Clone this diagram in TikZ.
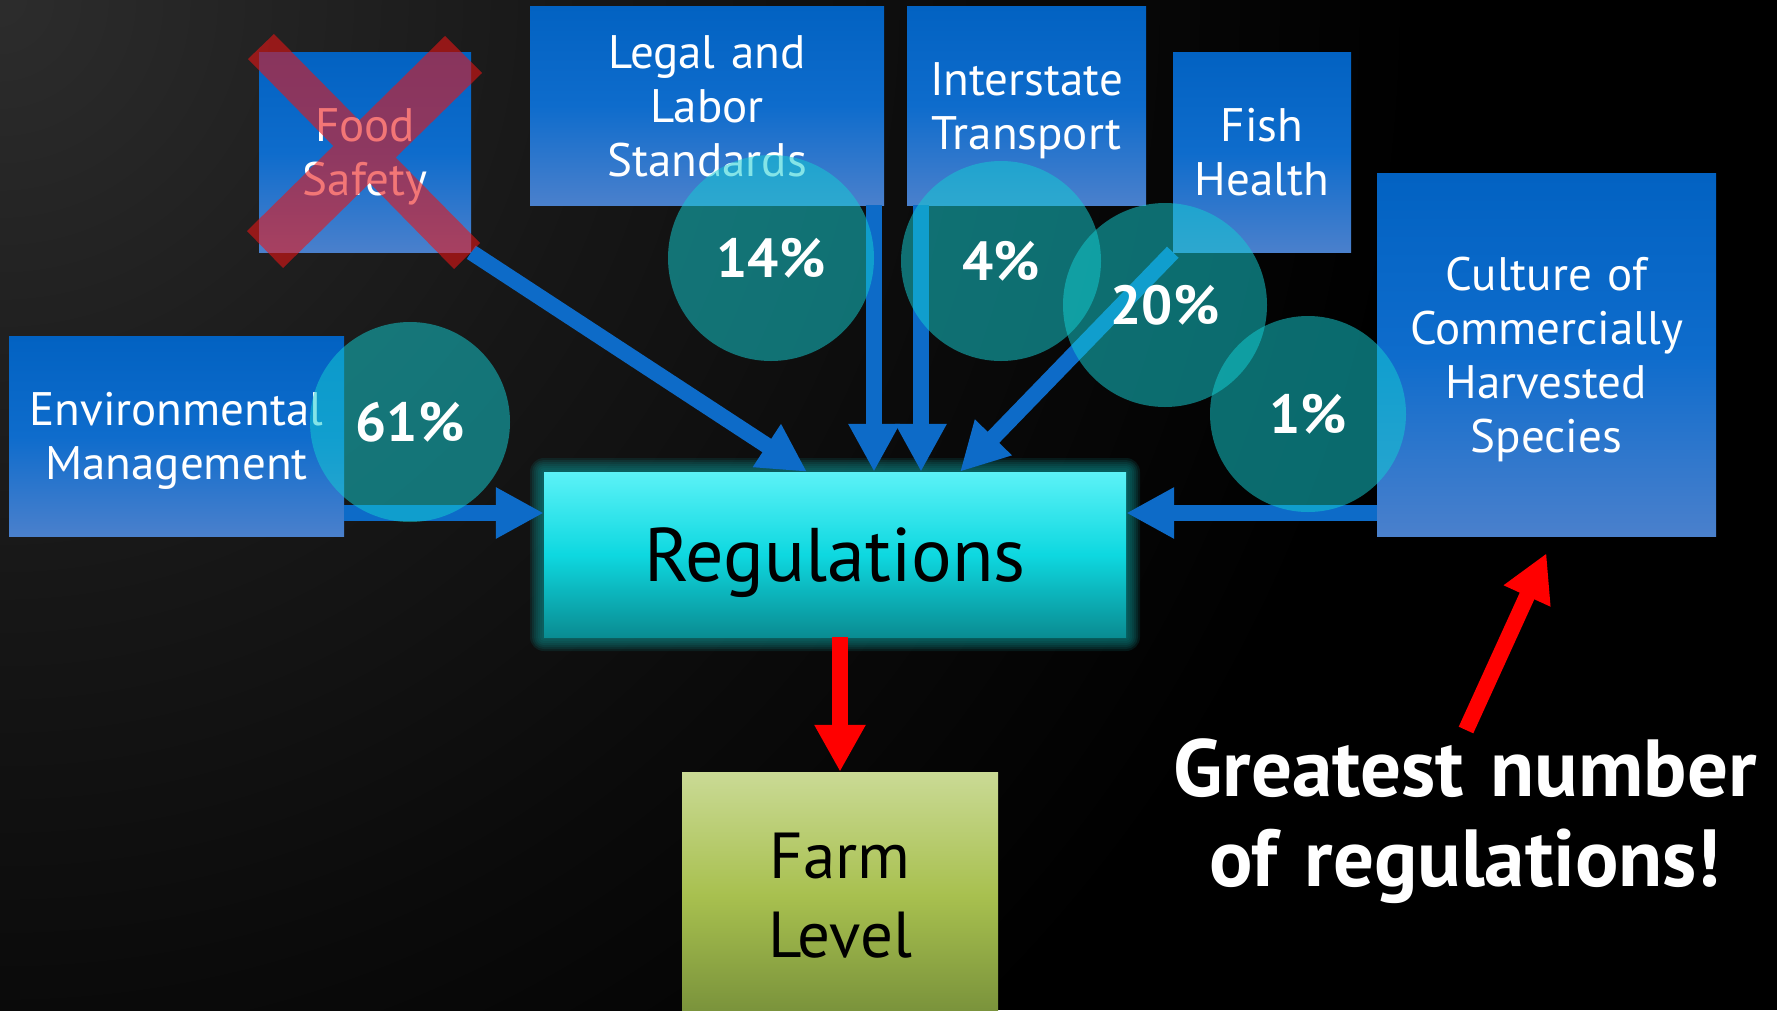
\documentclass[tikz,border=0pt]{standalone}
\usepackage{fontspec}
\setmainfont{PT Sans}
\usetikzlibrary{arrows.meta,calc}
\definecolor{bTop}{RGB}{2,98,194}
\definecolor{bMid}{RGB}{14,108,204}
\definecolor{bBot}{RGB}{74,128,204}
\definecolor{rTop}{RGB}{92,242,247}
\definecolor{rMid}{RGB}{14,216,224}
\definecolor{rBot}{RGB}{10,140,146}
\definecolor{fTop}{RGB}{202,218,149}
\definecolor{fMid}{RGB}{168,192,79}
\definecolor{fBot}{RGB}{119,144,58}
\definecolor{arrBlue}{RGB}{13,107,200}
\definecolor{circ}{RGB}{20,205,210}
\definecolor{xred}{RGB}{235,20,20}
\definecolor{glowc}{RGB}{12,130,130}
\begin{document}
\begin{tikzpicture}[x=1pt,y=-1pt,
  bbox/.style={rectangle, inner sep=0pt, top color=bTop, bottom color=bBot, middle color=bMid,
    text=white, align=center, font=\fontsize{47}{54}\selectfont, text height=33pt},
  rbox/.style={rectangle, inner sep=0pt, top color=rTop, bottom color=rBot, middle color=rMid,
    text=black, font=\fontsize{76}{76}\selectfont, text height=53pt, text depth=0pt},
  fbox/.style={rectangle, inner sep=0pt, top color=fTop, bottom color=fBot, middle color=fMid,
    text=black, align=center, font=\fontsize{65}{79}\selectfont, text height=45pt},
  barrow/.style={draw=arrBlue, line width=16pt, -{Triangle[width=48pt,length=48pt]}},
  rarrow/.style={draw=red, line width=16pt, -{Triangle[width=48pt,length=47pt]}},
  pct/.style={circle, inner sep=0pt, fill=circ, fill opacity=0.52, text opacity=1, text=white,
    font=\fontsize{55}{55}\selectfont\bfseries, text height=39pt, text depth=0pt},
  gtext/.style={inner sep=0pt, text=white, align=center, text width=760pt,
    font=\fontsize{81}{90}\selectfont\bfseries, text height=57pt, text depth=90pt}
]
\clip (0,0) rectangle (1777,1010);
\fill[black] (0,0) rectangle (1777,1010);
% radial background, lighter at the top left corner
\foreach \L in {0,...,43} {
  \pgfmathsetmacro{\rad}{\L>=22 ? 27.27*(44-\L) : (\L>=10 ? 600+33.33*(22-\L) : 1000+40*(10-\L))}
  \pgfmathsetmacro{\lev}{(\L+1)*0.392}
  \fill[white!\lev!black] (0,0) circle (\rad pt);
}

% glow around Regulations
\foreach \k in {2,4,...,14}
  \fill[glowc, fill opacity=0.16, rounded corners=\k pt] ({544-\k},{472-\k}) rectangle ({1126+\k},{637+\k});

% boxes
\node[bbox, minimum width=212pt, minimum height=200pt, text width=200pt, text depth=54pt] (fs) at (365,152) {Food\\Safety};
\node[bbox, minimum width=354pt, minimum height=199pt, text width=340pt, text depth=108pt] (legal) at (707,105.5) {Legal and\\Labor\\Standards};
\node[bbox, minimum width=239pt, minimum height=199pt, text width=230pt, text depth=54pt] (inter) at (1026.5,105.5) {Interstate\\Transport};
\node[bbox, minimum width=178pt, minimum height=200pt, text width=170pt, text depth=54pt] (fish) at (1262,152) {Fish\\Health};
\node[bbox, minimum width=339pt, minimum height=363pt, text width=330pt, text depth=162pt] (cult) at (1546.5,354.5) {Culture of\\Commercially\\Harvested\\Species};
\node[bbox, minimum width=335pt, minimum height=200pt, text width=325pt, text depth=54pt] (env) at (176.5,436) {Environmental\\Management};
\node[rbox, minimum width=582pt, minimum height=165pt] (reg) at (835,554.5) {Regulations};
\node[fbox, minimum width=316pt, minimum height=247pt, text width=300pt, text depth=79pt] (farm) at (840,895.5) {Farm\\Level};

% blue connectors
\coordinate (lvl) at (0,513);
\coordinate (xfood) at (807,0);
\coordinate (xlegal) at (874,0);
\coordinate (xinter) at (921,0);
\coordinate (xfish) at (960,0);
\draw[barrow] (env.east |- lvl) -- (reg.west |- lvl);
\draw[barrow] (cult.west |- lvl) -- (reg.east |- lvl);
\draw[barrow] (xlegal |- legal.south) -- (xlegal |- reg.north);
\draw[barrow] (xinter |- inter.south) -- (xinter |- reg.north);
\draw[barrow] (fs.south east) -- (xfood |- reg.north);
\draw[barrow] (fish.south west) -- (xfish |- reg.north);

% red cross over Food Safety
\fill[xred, fill opacity=0.58]
  (274,34) -- (480,243) -- (454,269) -- (248,59) -- cycle
  (445,36) -- (482,73) -- (283,268) -- (247,231) -- cycle;

% percentage circles
\node[pct, minimum size=200pt] (c61) at (410,422) {61\%};
\node[pct, minimum size=206pt] (c14) at (771,258) {14\%};
\node[pct, minimum size=200pt] (c4) at (1001,261) {4\%};
\node[pct, minimum size=204pt] (c20) at (1165,305) {20\%};
\node[pct, minimum size=196pt] (c1) at (1308,414) {1\%};

% red arrows
\draw[rarrow] (farm.north |- reg.south) -- (farm.north);
\node[gtext] (gt) at (1465,812.5) {Greatest number\\of regulations!};
\coordinate (gtail) at (1466,730);
\draw[rarrow] (gtail) -- ($(cult.south)+(0,17)$);
\end{tikzpicture}
\end{document}
